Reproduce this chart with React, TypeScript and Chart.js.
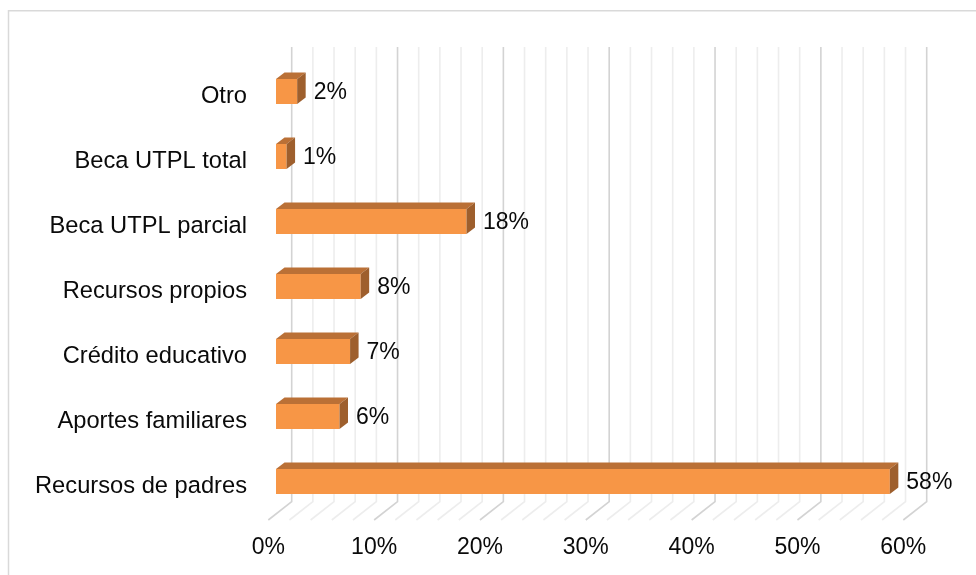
import React, { useEffect, useRef } from "react";
import { Chart, registerables } from "chart.js";

Chart.register(...registerables);

const categories = [
  "Otro",
  "Beca UTPL total",
  "Beca UTPL parcial",
  "Recursos propios",
  "Crédito educativo",
  "Aportes familiares",
  "Recursos de padres",
];
const values = [2, 1, 18, 8, 7, 6, 58];
const xTicks = [0, 10, 20, 30, 40, 50, 60];

const FONT = '"Liberation Sans", Arial, sans-serif';
const FRONT = "#F79646";
const TOP = "#BA7036";
const SIDE = "#9E5F2D";
const DX = 8.5;
const DY = 6.5;

const framePlugin = {
  id: "frame",
  beforeDraw(chart: any) {
    const ctx = chart.ctx;
    ctx.save();
    ctx.fillStyle = "#ffffff";
    ctx.fillRect(0, 0, chart.width, chart.height);
    ctx.strokeStyle = "#d9d9d9";
    ctx.lineWidth = 1.5;
    ctx.strokeRect(8.5, 10.75, chart.width + 20, chart.height + 20);
    ctx.restore();
  },
};

const gridPlugin = {
  id: "grid3d",
  beforeDatasetsDraw(chart: any) {
    const ctx = chart.ctx;
    const xs = chart.scales.x;
    const top = 47;
    const backY = 501.7;
    const frontY = 520;
    ctx.save();
    for (let v = 0; v <= 60; v += 2) {
      const major = v % 10 === 0;
      const xf = xs.getPixelForValue(v) - 7.7;
      const xb = xf + 23.4;
      ctx.strokeStyle = major ? "#d3d3d3" : "#ededed";
      ctx.lineWidth = 1.6;
      ctx.beginPath();
      ctx.moveTo(xb, top);
      ctx.lineTo(xb, backY);
      ctx.lineTo(xf, frontY);
      ctx.stroke();
    }
    ctx.restore();
  },
};

const bar3dPlugin = {
  id: "bar3d",
  afterDatasetsDraw(chart: any) {
    const ctx = chart.ctx;
    const meta = chart.getDatasetMeta(0);
    ctx.save();
    meta.data.forEach((bar: any, i: number) => {
      const { x, y, base, height } = bar.getProps(["x", "y", "base", "height"], true);
      const t = y - height / 2;
      const b = y + height / 2;
      ctx.fillStyle = TOP;
      ctx.beginPath();
      ctx.moveTo(base, t);
      ctx.lineTo(x, t);
      ctx.lineTo(x + DX, t - DY);
      ctx.lineTo(base + DX, t - DY);
      ctx.closePath();
      ctx.fill();
      ctx.fillStyle = SIDE;
      ctx.beginPath();
      ctx.moveTo(x, t);
      ctx.lineTo(x + DX, t - DY);
      ctx.lineTo(x + DX, b - DY);
      ctx.lineTo(x, b);
      ctx.closePath();
      ctx.fill();
      ctx.fillStyle = "#0a0a0a";
      ctx.font = `23px ${FONT}`;
      ctx.textAlign = "left";
      ctx.textBaseline = "middle";
      ctx.fillText(values[i] + "%", x + 16.5, y + 1.5);
    });
    ctx.restore();
  },
};

export default function App() {
  const ref = useRef<HTMLCanvasElement | null>(null);
  useEffect(() => {
    document.body.style.margin = "0";
    const chart = new Chart(ref.current as HTMLCanvasElement, {
      type: "bar",
      data: {
        labels: categories,
        datasets: [
          {
            data: values,
            backgroundColor: FRONT,
            borderWidth: 0,
            barPercentage: 0.385,
            categoryPercentage: 1,
          },
        ],
      },
      options: {
        indexAxis: "y",
        responsive: false,
        animation: false,
        devicePixelRatio: 1,
        layout: { padding: { top: 59, right: 65, left: 0, bottom: 0 } },
        plugins: { legend: { display: false }, tooltip: { enabled: false } },
        scales: {
          x: {
            min: 0,
            max: 60,
            afterBuildTicks(scale: any) {
              scale.ticks = xTicks.map((v) => ({ value: v }));
            },
            afterFit(scale: any) {
              scale.height = 61;
            },
            grid: { display: false, drawTicks: false },
            border: { display: false },
            ticks: {
              padding: 20,
              labelOffset: -7.7,
              color: "#0a0a0a",
              font: { family: FONT, size: 23 },
              callback: (v: any) => v + "%",
              maxRotation: 0,
            },
          },
          y: {
            afterFit(scale: any) {
              scale.width = 276;
            },
            grid: { display: false, drawTicks: false },
            border: { display: false },
            ticks: {
              padding: 29,
              labelOffset: 5,
              color: "#0a0a0a",
              font: { family: FONT, size: 23.7 },
              autoSkip: false,
            },
          },
        },
      },
      plugins: [framePlugin, gridPlugin, bar3dPlugin],
    });
    return () => chart.destroy();
  }, []);
  return (
    <div style={{ position: "fixed", left: 0, top: 0, width: 976, height: 575 }}>
      <canvas ref={ref} width={976} height={575} />
    </div>
  );
}
